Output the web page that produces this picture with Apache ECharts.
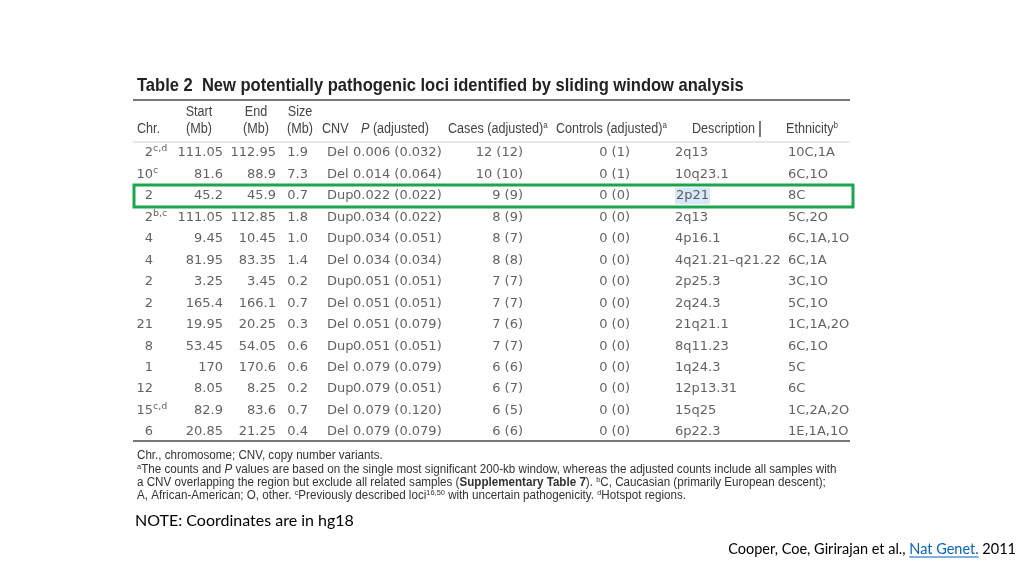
<!DOCTYPE html>
<html>
<head>
<meta charset="utf-8">
<script src="https://cdn.jsdelivr.net/npm/echarts@6/dist/echarts.min.js"></script>
<style>
    html, body { margin: 0; background: #fff; }
    #table-chart { width: 1024px; height: 576px; }
</style>
</head>
<body>
<div id="table-chart"></div>
<script>
// table rows (Table 2, Cooper et al. 2011)
const chrNum = ['2', '10', '2', '2', '4', '4', '2', '2', '21', '8', '1', '12', '15', '6'];
const chrNote = ['c,d', 'c', '', 'b,c', '', '', '', '', '', '', '', '', 'c,d', ''];
const startMb = ['111.05', '81.6', '45.2', '111.05', '9.45', '81.95', '3.25', '165.4', '19.95', '53.45', '170', '8.05', '82.9', '20.85'];
const endMb = ['112.95', '88.9', '45.9', '112.85', '10.45', '83.35', '3.45', '166.1', '20.25', '54.05', '170.6', '8.25', '83.6', '21.25'];
const sizeMb = ['1.9', '7.3', '0.7', '1.8', '1.0', '1.4', '0.2', '0.7', '0.3', '0.6', '0.6', '0.2', '0.7', '0.4'];
const cnvType = ['Del', 'Del', 'Dup', 'Dup', 'Dup', 'Del', 'Dup', 'Del', 'Del', 'Dup', 'Del', 'Dup', 'Del', 'Del'];
const pValue = ['0.006', '0.014', '0.022', '0.034', '0.034', '0.034', '0.051', '0.051', '0.051', '0.051', '0.079', '0.079', '0.079', '0.079'];
const pAdjusted = ['0.032', '0.064', '0.022', '0.022', '0.051', '0.034', '0.051', '0.051', '0.079', '0.051', '0.079', '0.051', '0.120', '0.079'];
const cases = [12, 10, 9, 8, 8, 8, 7, 7, 7, 7, 6, 6, 6, 6];
const casesAdjusted = [12, 10, 9, 9, 7, 8, 7, 7, 6, 7, 6, 7, 5, 6];
const controls = [0, 0, 0, 0, 0, 0, 0, 0, 0, 0, 0, 0, 0, 0];
const controlsAdjusted = [1, 1, 0, 0, 0, 0, 0, 0, 0, 0, 0, 0, 0, 0];
const description = ['2q13', '10q23.1', '2p21', '2q13', '4p16.1', '4q21.21\u2013q21.22', '2p25.3', '2q24.3', '21q21.1', '8q11.23', '1q24.3', '12p13.31', '15q25', '6p22.3'];
const ethnicity = ['10C,1A', '6C,1O', '8C', '5C,2O', '6C,1A,1O', '6C,1A', '3C,1O', '5C,1O', '1C,1A,2O', '6C,1O', '5C', '6C', '1C,2A,2O', '1E,1A,1O'];
const highlightRow = 2;

const bodyFont = '"DejaVu Sans", Verdana, sans-serif';
const sansFont = '"Liberation Sans", Arial, sans-serif';
const slideFont = 'Lato, "Open Sans", sans-serif';
const textColor = '#3a3a3a';

const pText = pValue.map((p, i) => p + ' (' + pAdjusted[i] + ')');
const casesText = cases.map((c, i) => c + ' (' + casesAdjusted[i] + ')');
const controlsText = controls.map((c, i) => c + ' (' + controlsAdjusted[i] + ')');

// column anchors in pixels
const columns = [
    { values: chrNum, x: 153, align: 'right' },
    { values: chrNote, x: 153, align: 'left', sup: true },
    { values: startMb, x: 223, align: 'right' },
    { values: endMb, x: 276, align: 'right' },
    { values: sizeMb, x: 308, align: 'right' },
    { values: cnvType, x: 327, align: 'left' },
    { values: pText, x: 353, align: 'left' },
    { values: casesText, x: 523, align: 'right' },
    { values: controlsText, x: 630, align: 'right' },
    { values: description, x: 675, align: 'left', mark: true },
    { values: ethnicity, x: 788, align: 'left' }
];

const series = columns.map(col => ({
    type: 'scatter',
    symbolSize: 0,
    silent: true,
    data: col.values.map((v, i) => {
        let item = { value: [col.x, i] };
        if (col.mark && i === highlightRow) {
            item.label = { backgroundColor: '#cfe2f7', padding: [2, 1, 2, 1] };
        }
        return item;
    }),
    label: {
        show: true,
        position: 'inside',
        align: col.align,
        verticalAlign: 'middle',
        offset: col.sup ? [0, -4] : [0, 0],
        fontFamily: bodyFont,
        fontSize: col.sup ? 9.5 : 13,
        color: textColor,
        formatter: p => String(col.values[p.dataIndex])
    }
}));

// text squeezed horizontally to look like the condensed journal font
function text(x, y, str, opt, squeeze) {
    return {
        type: 'text',
        silent: true,
        x: x, y: y,
        scaleX: squeeze || 0.9,
        style: Object.assign({
            x: 0, y: 0, text: str,
            fontFamily: sansFont, fontSize: 14,
            fill: '#444', verticalAlign: 'middle'
        }, opt || {})
    };
}
function rule(y, color, width) {
    return {
        type: 'line', silent: true,
        shape: { x1: 133, y1: y, x2: 850, y2: y },
        style: { stroke: color, lineWidth: width }
    };
}

const supRich = {
    n: { fontFamily: sansFont, fontSize: 14, fill: '#444', lineHeight: 16 },
    s: { fontFamily: sansFont, fontSize: 9, fill: '#444', verticalAlign: 'top' }
};
const noteRich = {
    n: { fontFamily: sansFont, fontSize: 12.5, fill: '#333', lineHeight: 14 },
    i: { fontFamily: sansFont, fontSize: 12.5, fill: '#333', fontStyle: 'italic', lineHeight: 14 },
    b: { fontFamily: sansFont, fontSize: 12.5, fill: '#333', fontWeight: 'bold', lineHeight: 14 },
    s: { fontFamily: sansFont, fontSize: 8, fill: '#333', verticalAlign: 'top' }
};

const chart = echarts.init(document.getElementById('table-chart'));
chart.setOption({
    animation: false,
    backgroundColor: '#fff',
    grid: { left: 0, right: 0, top: 142.3, height: 300.4 },
    xAxis: { type: 'value', min: 0, max: 1024, show: false },
    yAxis: {
        type: 'category', inverse: true, show: false,
        data: chrNum.map((c, i) => String(i))
    },
    series: series
});

// green box around the highlighted row, placed from the row's axis position
const rowY = chart.convertToPixel({ gridIndex: 0 }, [0, highlightRow])[1];

// underline width for the journal link
const ctx = document.createElement('canvas').getContext('2d');
ctx.font = '14.5px ' + slideFont;
const yearW = ctx.measureText(' 2011').width;
const journalW = ctx.measureText('Nat Genet.').width;

const noteSqueeze = 0.93;

chart.setOption({
    graphic: [
        text(137, 86, 'Table 2  New potentially pathogenic loci identified by sliding window analysis',
            { fontSize: 19, fontWeight: 'bold', fill: '#222' }, 0.87),
        rule(100, '#777', 2),
        text(199, 112, 'Start', { align: 'center' }),
        text(256, 112, 'End', { align: 'center' }),
        text(300, 112, 'Size', { align: 'center' }),
        text(137, 129, 'Chr.'),
        text(199, 129, '(Mb)', { align: 'center' }),
        text(256, 129, '(Mb)', { align: 'center' }),
        text(300, 129, '(Mb)', { align: 'center' }),
        text(322, 129, 'CNV'),
        text(361, 129, '{i|P} {n|(adjusted)}', { rich: {
            i: { fontFamily: sansFont, fontSize: 14, fill: '#444', fontStyle: 'italic' },
            n: { fontFamily: sansFont, fontSize: 14, fill: '#444' }
        } }),
        text(448, 129, '{n|Cases (adjusted)}{s|a}', { rich: supRich }),
        text(556, 129, '{n|Controls (adjusted)}{s|a}', { rich: supRich }),
        text(692, 129, 'Description'),
        {
            type: 'line', silent: true,
            shape: { x1: 760, y1: 121, x2: 760, y2: 137 },
            style: { stroke: '#222', lineWidth: 1.2 }
        },
        text(786, 129, '{n|Ethnicity}{s|b}', { rich: supRich }),
        rule(142, '#cfcfcf', 1),
        rule(441, '#777', 2),
        {
            type: 'rect', silent: true,
            shape: { x: 134, y: rowY - 11, width: 719, height: 22 },
            style: { fill: 'none', stroke: '#1aa64b', lineWidth: 3 }
        },
        text(137, 456, 'Chr., chromosome; CNV, copy number variants.', { fontSize: 12.5, fill: '#333' }, noteSqueeze),
        text(137, 469.3, '{s|a}{n|The counts and }{i|P}{n| values are based on the single most significant 200-kb window, whereas the adjusted counts include all samples with}', { rich: noteRich }, noteSqueeze),
        text(137, 482.6, '{n|a CNV overlapping the region but exclude all related samples (}{b|Supplementary Table 7}{n|). }{s|b}{n|C, Caucasian (primarily European descent);}', { rich: noteRich }, noteSqueeze),
        text(137, 495.9, '{n|A, African-American; O, other. }{s|c}{n|Previously described loci}{s|16,50}{n| with uncertain pathogenicity. }{s|d}{n|Hotspot regions.}', { rich: noteRich }, noteSqueeze),
        text(135, 521, 'NOTE: Coordinates are in hg18', { fontFamily: slideFont, fontSize: 16, fill: '#000' }, 1),
        text(1016, 549, '{n|Cooper, Coe, Girirajan et al., }{l|Nat Genet.}{n| 2011}', {
            align: 'right',
            rich: {
                n: { fontFamily: slideFont, fontSize: 14.5, fill: '#000' },
                l: { fontFamily: slideFont, fontSize: 14.5, fill: '#0563c1' }
            }
        }, 1),
        {
            type: 'line', silent: true,
            shape: { x1: 1016 - yearW - journalW, y1: 557, x2: 1016 - yearW, y2: 557 },
            style: { stroke: '#0563c1', lineWidth: 1 }
        }
    ]
});
</script>
</body>
</html>
